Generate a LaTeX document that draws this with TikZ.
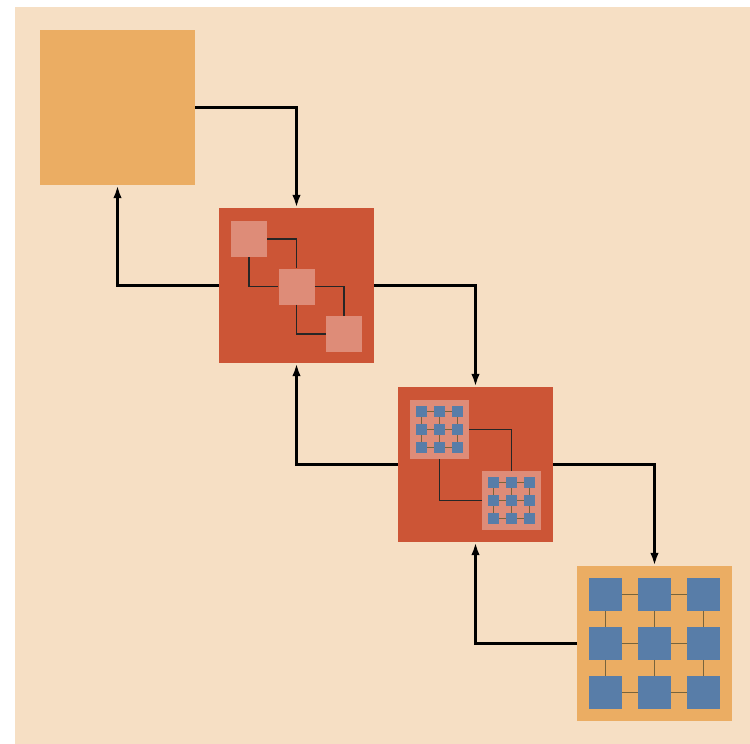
\documentclass[tikz,border=0pt]{standalone}
\usepackage{tikz}
\usetikzlibrary{positioning,calc,arrows.meta}
\definecolor{PeachBack}{RGB}{246,223,196}
\definecolor{SandOrange}{RGB}{235,173,99}
\definecolor{BrickRed}{RGB}{204,85,54}
\definecolor{SalmonPink}{RGB}{222,140,120}
\definecolor{SteelBlue}{RGB}{88,125,168}
\definecolor{GridOlive}{RGB}{120,100,60}

\begin{document}
\begin{tikzpicture}[
    x=1pt, y=-1pt,
    big/.style={
        rectangle,
        inner sep=0pt,
        minimum size=155pt
    },
    core/.style={
        rectangle,
        inner sep=0pt,
        minimum size=36pt,
        fill=SalmonPink
    },
    chip/.style={
        rectangle,
        inner sep=0pt,
        minimum size=59pt,
        fill=SalmonPink
    },
    tinycell/.style={
        rectangle,
        inner sep=0pt,
        minimum size=11pt,
        fill=SteelBlue
    },
    cell/.style={
        rectangle,
        inner sep=0pt,
        minimum size=32.5pt,
        fill=SteelBlue
    },
    arrow/.style={
        -{Latex[length=13pt,width=8.5pt]},
        line width=2.8pt
    },
    wire/.style={
        line width=1.3pt,
        draw=black!85
    },
    link/.style={
        line width=1.3pt,
        draw=GridOlive
    }
]

\fill[PeachBack] (15,7) rectangle (750,744);
\useasboundingbox (0,0) rectangle (750,744);

% the four levels
\node[big, fill=SandOrange] (level0) at (117.5,107.5) {};
\node[big, fill=BrickRed]   (level1) at (296.5,285.5) {};
\node[big, fill=BrickRed]   (level2) at (475.5,464.5) {};
\node[big, fill=SandOrange] (level3) at (654.5,643.5) {};

\draw[arrow] (level0.east) -| (level1.north);
\draw[arrow] (level1.west) -| (level0.south);
\draw[arrow] (level1.east) -| (level2.north);
\draw[arrow] (level2.west) -| (level1.south);
\draw[arrow] (level2.east) -| (level3.north);
\draw[arrow] (level3.west) -| (level2.south);

% cores in level1
\node[core] (coreA) at (249,239) {};
\node[core] (coreB) at (296.5,286.5) {};
\node[core] (coreC) at (344,334) {};

\draw[wire] (coreA.east) -| (coreB.north);
\draw[wire] (coreA.south) |- (coreB.west);
\draw[wire] (coreB.east) -| (coreC.north);
\draw[wire] (coreB.south) |- (coreC.west);

% chips in level2
\foreach \chipname/\cx/\cy in {chipA/439.5/429.5, chipB/511.5/500.5} {
    \node[chip] (\chipname) at (\cx,\cy) {};
    \foreach \i in {0,1,2}
        \foreach \j in {0,1,2}
            \node[tinycell] (\chipname-\i-\j) at (\cx+18*\i-18,\cy+18*\j-18) {};
    \foreach \i/\k in {0/1,1/2}
        \foreach \j in {0,1,2} {
            \draw[link] (\chipname-\i-\j.east) -- (\chipname-\k-\j.west);
            \draw[link] (\chipname-\j-\i.south) -- (\chipname-\j-\k.north);
        }
}

\draw[wire] (chipA.east) -| (chipB.north);
\draw[wire] (chipA.south) |- (chipB.west);

% cells in level3
\foreach \i in {0,1,2}
    \foreach \j in {0,1,2}
        \node[cell] (cell-\i-\j) at (605.5+49*\i,594.5+49*\j) {};
\foreach \i/\k in {0/1,1/2}
    \foreach \j in {0,1,2} {
        \draw[link] (cell-\i-\j.east) -- (cell-\k-\j.west);
        \draw[link] (cell-\j-\i.south) -- (cell-\j-\k.north);
    }

\end{tikzpicture}
\end{document}
